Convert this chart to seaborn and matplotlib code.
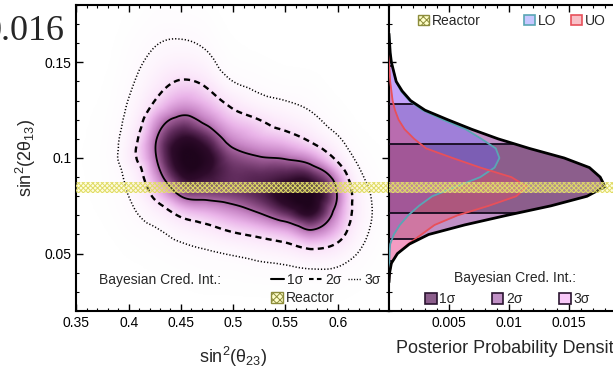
import numpy as np
import seaborn as sns
import matplotlib
matplotlib.use("Agg")
import matplotlib.pyplot as plt
import matplotlib.tri as mtri
from matplotlib.colors import LinearSegmentedColormap, PowerNorm, to_rgba
from matplotlib.lines import Line2D
from matplotlib.patches import Patch, Polygon
from matplotlib.ticker import MultipleLocator, FormatStrFormatter

# 2D posterior, relative density (peak ~100)
s23_nodes = [0.35, 0.375, 0.40, 0.425, 0.45, 0.475, 0.50, 0.525, 0.55, 0.575, 0.60, 0.625, 0.65]
s13_nodes = [0.02, 0.03, 0.04, 0.05, 0.06, 0.07, 0.08, 0.09, 0.10,
             0.11, 0.12, 0.13, 0.14, 0.15, 0.16, 0.17, 0.18]
post_2d = [
    [0.001, 0.001, 0.001, 0.001, 0.001, 0.001, 0.002, 0.002, 0.002, 0.003, 0.003, 0.001, 0.001],
    [0.001, 0.001, 0.001, 0.002, 0.005, 0.01, 0.01, 0.012, 0.015, 0.02, 0.02, 0.005, 0.001],
    [0.001, 0.001, 0.003, 0.007, 0.02, 0.04, 0.04, 0.08, 0.11, 0.18, 0.15, 0.03, 0.002],
    [0.001, 0.002, 0.01, 0.03, 0.09, 0.2, 0.38, 0.74, 1.3, 2.6, 1.5, 0.15, 0.005],
    [0.001, 0.004, 0.04, 0.14, 0.69, 1.6, 3.6, 6.0, 10, 22, 8.5, 0.5, 0.015],
    [0.002, 0.01, 0.13, 0.96, 5.4, 10, 17, 28, 49, 75, 20, 0.9, 0.025],
    [0.003, 0.018, 0.3, 5.9, 32, 40, 45, 58, 90, 99, 30, 0.8, 0.02],
    [0.004, 0.025, 0.6, 16.6, 72, 72, 55, 58, 66, 63, 18.6, 0.3, 0.01],
    [0.005, 0.03, 1.7, 28, 95, 86, 44, 34, 30, 19, 3.0, 0.07, 0.004],
    [0.004, 0.025, 1.3, 27.8, 76, 58, 22, 12.7, 8.3, 3.2, 0.44, 0.015, 0.002],
    [0.003, 0.018, 0.65, 15, 39, 24, 8.7, 4.5, 1.8, 0.6, 0.06, 0.003, 0.001],
    [0.002, 0.01, 0.33, 4.5, 14, 9.0, 2.4, 0.65, 0.3, 0.11, 0.01, 0.001, 0.001],
    [0.001, 0.006, 0.16, 1.7, 5.0, 2.9, 0.3, 0.09, 0.03, 0.02, 0.002, 0.001, 0.001],
    [0.001, 0.003, 0.08, 0.65, 1.4, 0.7, 0.04, 0.015, 0.005, 0.003, 0.001, 0.001, 0.001],
    [0.001, 0.002, 0.04, 0.25, 0.39, 0.17, 0.01, 0.003, 0.001, 0.001, 0.001, 0.001, 0.001],
    [0.001, 0.001, 0.015, 0.09, 0.11, 0.05, 0.003, 0.001, 0.001, 0.001, 0.001, 0.001, 0.001],
    [0.001, 0.001, 0.005, 0.035, 0.03, 0.015, 0.001, 0.001, 0.001, 0.001, 0.001, 0.001, 0.001],
]
cred_levels_2d = [0.3, 4.5, 32]  # 3σ, 2σ, 1σ

# marginal posterior of sin^2(2θ13)
s13_marg = [0.035, 0.04, 0.045, 0.05, 0.055, 0.06, 0.065, 0.07, 0.075, 0.08, 0.085, 0.09, 0.095,
            0.10, 0.105, 0.11, 0.115, 0.12, 0.125, 0.13, 0.135, 0.14, 0.145, 0.15, 0.155, 0.16, 0.165]
post_total = [0.0, 0.00005, 0.0002, 0.0007, 0.0017, 0.0033, 0.0063, 0.0098, 0.0135, 0.0165, 0.0180,
              0.0176, 0.0167, 0.0146, 0.0117, 0.0091, 0.0069, 0.0049, 0.0030, 0.0018, 0.0011,
              0.0006, 0.0004, 0.0002, 0.0001, 0.00005, 0.0]
post_lo = [0.0, 0.0, 0.00002, 0.00005, 0.0001, 0.0004, 0.0009, 0.0016, 0.0025, 0.0036, 0.0056,
           0.0076, 0.0088, 0.0092, 0.0089, 0.0077, 0.0064, 0.0045, 0.0028, 0.0017, 0.0010,
           0.0006, 0.0004, 0.0002, 0.0001, 0.00005, 0.0]
post_uo = [0.0, 0.00005, 0.0002, 0.0007, 0.0016, 0.0027, 0.0038, 0.0057, 0.0083, 0.0106, 0.0115,
           0.0102, 0.0076, 0.0053, 0.0031, 0.0021, 0.0013, 0.0008, 0.0005, 0.0003, 0.0002,
           0.0001, 0.00005, 0.0, 0.0, 0.0, 0.0]
cred_1s = [0.0712, 0.1073]
cred_2s = [0.0576, 0.1280]
cred_3s = [0.0460, 0.1480]

reactor_s13 = [0.0816, 0.0876]

c_1s, c_2s, c_3s = "#8c5e8c", "#c190c6", "#f8c8f8"
lo_fill, lo_edge = "#6060ff", "#5aa6b4"
uo_fill, uo_edge = "#eb4b61", "#e8505a"
reactor_face = (1.0, 1.0, 0.6, 0.3)
reactor_hatch = (0.88, 0.86, 0.4, 1.0)

sns.set_theme(style="ticks")
plt.rcParams["font.family"] = ["Liberation Sans", "DejaVu Sans"]
plt.rcParams.update({
    "mathtext.fontset": "custom",
    "mathtext.rm": "Liberation Sans",
    "mathtext.it": "Liberation Sans:italic",
    "xtick.direction": "in", "ytick.direction": "in",
    "xtick.top": True, "ytick.right": True,
    "xtick.major.size": 5, "ytick.major.size": 5,
    "xtick.minor.size": 2.5, "ytick.minor.size": 2.5,
    "xtick.major.width": 1.0, "ytick.major.width": 1.0,
    "xtick.minor.width": 0.8, "ytick.minor.width": 0.8,
    "xtick.color": "black", "ytick.color": "black",
    "axes.edgecolor": "black", "axes.linewidth": 1.5,
    "hatch.linewidth": 0.7,
})

fig = plt.figure(figsize=(6.13, 3.66), dpi=100)
ax1 = fig.add_axes([76.4 / 613, 55 / 366, 312.6 / 613, 306 / 366])
ax2 = fig.add_axes([389 / 613, 55 / 366, 240 / 613, 306 / 366])

# ---- left: 2D posterior
gx, gy = np.meshgrid(s23_nodes, s13_nodes)
tri = mtri.Triangulation(gx.ravel(), gy.ravel())
interp = mtri.CubicTriInterpolator(tri, np.log10(np.array(post_2d)).ravel(), kind="geom")
fx, fy = np.meshgrid(np.linspace(0.35, 0.65, 400), np.linspace(0.02, 0.18, 300))
logz = np.ma.filled(interp(fx, fy), -3.0)

cmap = LinearSegmentedColormap.from_list(
    "plum", ["#ffffff", "#fbe6fa", "#eab4e9", "#c987c7", "#96568f", "#5e2a5a", "#2e0b2b", "#1e041c"])
ax1.imshow(10 ** logz, origin="lower", extent=[0.35, 0.65, 0.02, 0.18], aspect="auto",
           cmap=cmap, norm=PowerNorm(0.58, vmin=0, vmax=100), interpolation="bilinear", zorder=0)
ax1.contour(fx, fy, logz, levels=np.log10(cred_levels_2d), colors="black",
            linestyles=[(0, (0.8, 1.3)), (0, (2.6, 1.8)), "solid"], linewidths=[1.1, 1.7, 1.3], zorder=2)
ax1.axhspan(*reactor_s13, facecolor=reactor_face, edgecolor=reactor_hatch, hatch="xxxxxxx", lw=0, zorder=5)

ax1.set_xlim(0.35, 0.6491)
ax1.set_ylim(0.02, 0.18)
ax1.set_xticks([0.35, 0.4, 0.45, 0.5, 0.55, 0.6])
ax1.set_yticks([0.05, 0.1, 0.15])
ax1.xaxis.set_minor_locator(MultipleLocator(0.01))
ax1.yaxis.set_minor_locator(MultipleLocator(0.01))
ax1.xaxis.set_major_formatter(FormatStrFormatter("%g"))
ax1.yaxis.set_major_formatter(FormatStrFormatter("%g"))
ax1.tick_params(labelsize=10)
ax1.set_xlabel("sin$^2$(θ$_{23}$)", fontsize=13, labelpad=11)
ax1.set_ylabel("sin$^2$(2θ$_{13}$)", fontsize=13, labelpad=5)

ax1.text(0.073, 0.101, "Bayesian Cred. Int.:", transform=ax1.transAxes, fontsize=10, va="center")
line_handles = [Line2D([], [], color="black", lw=1.5),
                Line2D([], [], color="black", lw=1.5, ls=(0, (2.2, 1.6))),
                Line2D([], [], color="black", lw=1.0, ls=(0, (0.8, 1.2)))]
leg = ax1.legend(line_handles, ["1σ", "2σ", "3σ"], ncol=3, loc="center left",
                 bbox_to_anchor=(0.6, 0.101), frameon=False, borderpad=0, fontsize=10,
                 handlelength=0.95, handletextpad=0.2, columnspacing=0.45)
ax1.add_artist(leg)
reactor_patch = Patch(facecolor=(1.0, 1.0, 0.65, 0.6), edgecolor="#8c8c3c", hatch="xxxxx", lw=1.0)
ax1.legend([reactor_patch], ["Reactor"], loc="center left", bbox_to_anchor=(0.6, 0.042),
           frameon=False, borderpad=0, fontsize=10, handlelength=0.9, handleheight=0.9,
           handletextpad=0.15)

# ---- right: marginal posterior
ys = np.array(s13_marg)
tot = np.array(post_total)
shape = Polygon(np.column_stack([np.r_[0, tot, 0], np.r_[ys[0], ys, ys[-1]]]),
                closed=True, fill=False, lw=0)
ax2.add_patch(shape)
for (lo, hi), col in zip([cred_3s, cred_2s, cred_1s], [c_3s, c_2s, c_1s]):
    band = ax2.axhspan(lo, hi, color=col, lw=0, zorder=1)
    band.set_clip_path(shape)

ax2.fill_betweenx(ys, 0, post_lo, color=lo_fill, alpha=0.35, lw=0, zorder=2)
ax2.fill_betweenx(ys, 0, post_uo, color=uo_fill, alpha=0.35, lw=0, zorder=2.1)
hl = ax2.hlines(cred_1s + cred_2s + cred_3s, 0, 0.02, colors="#140a1e", lw=1.3, zorder=3)
hl.set_clip_path(shape)

sns.lineplot(x=post_lo, y=s13_marg, orient="y", color=lo_edge, lw=1.3, ax=ax2, zorder=3.5)
sns.lineplot(x=post_uo, y=s13_marg, orient="y", color=uo_edge, lw=1.3, ax=ax2, zorder=3.6)
sns.lineplot(x=post_total, y=s13_marg, orient="y", color="black", lw=2.0, ax=ax2, zorder=4)
ax2.axhspan(*reactor_s13, facecolor=reactor_face, edgecolor=reactor_hatch, hatch="xxxxxxx", lw=0, zorder=5)

ax2.set_xlim(0, 0.02)
ax2.set_ylim(0.02, 0.18)
ax2.set_xticks([0.005, 0.01, 0.015])
ax2.set_yticks([0.05, 0.1, 0.15])
ax2.xaxis.set_minor_locator(MultipleLocator(0.001))
ax2.yaxis.set_minor_locator(MultipleLocator(0.01))
ax2.xaxis.set_major_formatter(FormatStrFormatter("%g"))
ax2.tick_params(labelsize=10, labelleft=False)
ax2.set_xlabel("Posterior Probability Density", fontsize=13, labelpad=7)
ax2.set_ylabel("")

top1 = ax2.legend([reactor_patch], ["Reactor"], loc="center left", bbox_to_anchor=(0.09, 0.948),
                  frameon=False, borderpad=0, fontsize=10, handlelength=0.85, handleheight=0.8,
                  handletextpad=0.2)
ax2.add_artist(top1)
lo_patch = Patch(facecolor=to_rgba(lo_fill, 0.35), edgecolor=lo_edge, lw=1.2)
uo_patch = Patch(facecolor=to_rgba(uo_fill, 0.35), edgecolor=uo_edge, lw=1.2)
top2 = ax2.legend([lo_patch, uo_patch], ["LO", "UO"], ncol=2, loc="center left",
                  bbox_to_anchor=(0.532, 0.948), frameon=False, borderpad=0, fontsize=10,
                  handlelength=0.85, handleheight=0.8, handletextpad=0.2, columnspacing=1.0)
ax2.add_artist(top2)
ax2.text(0.27, 0.108, "Bayesian Cred. Int.:", transform=ax2.transAxes, fontsize=10, va="center")
sig_handles = [Patch(facecolor=c, edgecolor="#2a1430", lw=1.2) for c in [c_1s, c_2s, c_3s]]
ax2.legend(sig_handles, ["1σ", "2σ", "3σ"], ncol=3, loc="center left", bbox_to_anchor=(0.12, 0.039),
           frameon=False, borderpad=0, fontsize=10, handlelength=0.85, handleheight=0.9,
           handletextpad=0.2, columnspacing=2.6)

fig.text(65 / 613, 1 - 39.5 / 366, "0.016", ha="right", va="baseline", fontsize=26,
         family=["Liberation Serif", "DejaVu Serif"])

fig.savefig("out.png", dpi=100)
